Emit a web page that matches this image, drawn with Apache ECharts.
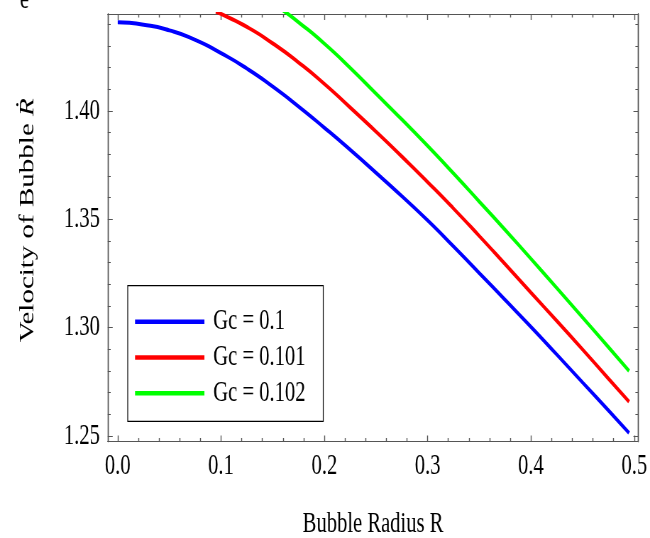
<!DOCTYPE html>
<html><head><meta charset="utf-8">
<script src="https://cdn.jsdelivr.net/npm/echarts@6/dist/echarts.min.js"></script>
<style>
html,body{margin:0;padding:0;overflow:hidden;background:#fff}
#wrap{width:650px;height:538px;overflow:hidden;position:relative}
#c{width:916px;height:538px;transform:scaleX(0.70961);transform-origin:0 0}
</style>
</head><body><div id="wrap"><div id="c"></div></div>
<script>
// ---- data ----
const seriesNames = ['Gc = 0.1', 'Gc = 0.101', 'Gc = 0.102'];
const xBlue  = [0, 0.025, 0.05, 0.075, 0.1, 0.125, 0.15, 0.175, 0.2, 0.225, 0.25, 0.275, 0.3, 0.325, 0.35, 0.375, 0.4, 0.425, 0.45, 0.475, 0.495];
const yBlue  = [1.4409, 1.4398, 1.4372, 1.4328, 1.4267, 1.4196, 1.4113, 1.4021, 1.3923, 1.3821, 1.3715, 1.3607, 1.3495, 1.3375, 1.3252, 1.3128, 1.3004, 1.2876, 1.2747, 1.2618, 1.2514];
const xRed   = [0.095, 0.1, 0.125, 0.15, 0.175, 0.2, 0.225, 0.25, 0.275, 0.3, 0.325, 0.35, 0.375, 0.4, 0.425, 0.45, 0.475, 0.495];
const yRed   = [1.4459, 1.4448, 1.4388, 1.4312, 1.4224, 1.4125, 1.4016, 1.3905, 1.3790, 1.3672, 1.3550, 1.3423, 1.3293, 1.3162, 1.3031, 1.2899, 1.2765, 1.2658];
const xGreen = [0.16, 0.175, 0.2, 0.225, 0.25, 0.275, 0.3, 0.325, 0.35, 0.375, 0.4, 0.425, 0.45, 0.475, 0.495];
const yGreen = [1.4464, 1.4410, 1.4311, 1.4199, 1.4080, 1.3961, 1.3839, 1.3712, 1.3582, 1.3451, 1.3318, 1.3183, 1.3047, 1.2910, 1.2800];
const xMajorTicks = [0, 0.1, 0.2, 0.3, 0.4, 0.5];
const xMinorTicks = [0.02, 0.04, 0.06, 0.08, 0.12, 0.14, 0.16, 0.18, 0.22, 0.24, 0.26, 0.28, 0.32, 0.34, 0.36, 0.38, 0.42, 0.44, 0.46, 0.48];
const yMajorTicks = [1.25, 1.30, 1.35, 1.40];
const yMinorTicks = [1.26, 1.27, 1.28, 1.29, 1.31, 1.32, 1.33, 1.34, 1.36, 1.37, 1.38, 1.39, 1.41, 1.42, 1.43, 1.44];
const xLabel = 'Bubble Radius R';
const yLabelText = 'Velocity of Bubble ';
const yLabelSym = 'Ṙ';
const colors = ['#0000ff', '#ff0000', '#00ff00'];

const XMIN = -0.00968, XMAX = 0.5040, YMIN = 1.24746, YMAX = 1.44476;
const FONT = 'Liberation Serif';
const frame = '#555';

function pairs(xs, ys) { return xs.map((x, i) => [x, ys[i]]); }

function xAx(pos, ticks, len, labels, extra) {
  return Object.assign({
    type: 'value', position: pos, min: XMIN, max: XMAX,
    axisLine: { show: true, onZero: false, lineStyle: { color: frame, width: 1 } },
    axisTick: { show: true, inside: true, length: len, customValues: ticks, lineStyle: { color: frame, width: 1.4 } },
    axisLabel: labels ? { show: true, customValues: xMajorTicks, formatter: v => v.toFixed(1), margin: 10,
      fontFamily: FONT, fontSize: 29, color: '#000' } : { show: false },
    splitLine: { show: false }
  }, extra || {});
}
function yAx(pos, ticks, len, labels, extra) {
  return Object.assign({
    type: 'value', position: pos, min: YMIN, max: YMAX,
    axisLine: { show: true, onZero: false, lineStyle: { color: frame, width: 1.4 } },
    axisTick: { show: true, inside: true, length: len, customValues: ticks, lineStyle: { color: frame, width: 1 } },
    axisLabel: labels ? { show: true, customValues: yMajorTicks, formatter: v => v.toFixed(2), margin: 11,
      fontFamily: FONT, fontSize: 29, color: '#000' } : { show: false },
    splitLine: { show: false }
  }, extra || {});
}

const chart = echarts.init(document.getElementById('c'), null, { renderer: 'canvas' });
chart.setOption({
  animation: false,
  backgroundColor: '#fff',
  textStyle: { fontFamily: FONT, fontWeight: 'normal' },
  grid: { left: 151.8, right: 16.4, top: 14, bottom: 96.5, outerBoundsMode: 'none', containLabel: false },
  xAxis: [
    xAx('bottom', xMajorTicks, 6, true, {
      name: xLabel, nameLocation: 'middle', nameGap: 68,
      nameTextStyle: { fontFamily: FONT, fontSize: 29, color: '#000', fontWeight: 'normal' }
    }),
    xAx('bottom', xMinorTicks, 3.5, false),
    xAx('top', xMajorTicks, 6, false),
    xAx('top', xMinorTicks, 3.5, false)
  ],
  yAxis: [
    yAx('left', yMajorTicks, 7, true, {
      name: '{a|' + yLabelText + '}{b|' + yLabelSym + '}', nameLocation: 'middle', nameGap: 98, nameRotate: 90,
      nameTextStyle: { fontFamily: FONT, fontSize: 29, color: '#000', fontWeight: 'normal', padding: [0, 0, 0, 15],
        rich: { a: { fontFamily: FONT, fontSize: 29, color: '#000', fontWeight: 'normal' },
                b: { fontFamily: FONT, fontSize: 29, color: '#000', fontWeight: 'normal', fontStyle: 'italic' } } }
    }),
    yAx('left', yMinorTicks, 4.2, false),
    yAx('right', yMajorTicks, 7, false),
    yAx('right', yMinorTicks, 4.2, false)
  ],
  legend: {
    orient: 'vertical', left: 180, top: 285.7,
    data: seriesNames, icon: 'rect', itemWidth: 97.7, itemHeight: 4.5, itemGap: 6.8,
    padding: [21.5, 25, 13.5, 10.3],
    borderColor: '#000', borderWidth: 1.2, backgroundColor: '#fff',
    textStyle: { fontFamily: FONT, fontSize: 29, color: '#000', padding: [0, 0, 0, 7.6] }
  },
  graphic: [{ type: 'text', x: 28, y: 0, silent: true,
    style: { text: 'e', font: '29px "Liberation Serif"', fill: '#000', verticalAlign: 'middle' } }],
  series: [
    { name: seriesNames[0], type: 'line', data: pairs(xBlue, yBlue) },
    { name: seriesNames[1], type: 'line', data: pairs(xRed, yRed) },
    { name: seriesNames[2], type: 'line', data: pairs(xGreen, yGreen) }
  ].map((s, i) => Object.assign(s, {
    xAxisIndex: 0, yAxisIndex: 0, smooth: 0.6, showSymbol: false, symbol: 'none', clip: true,
    color: colors[i], lineStyle: { color: colors[i], width: 4 }
  }))
});
</script>
</body></html>
